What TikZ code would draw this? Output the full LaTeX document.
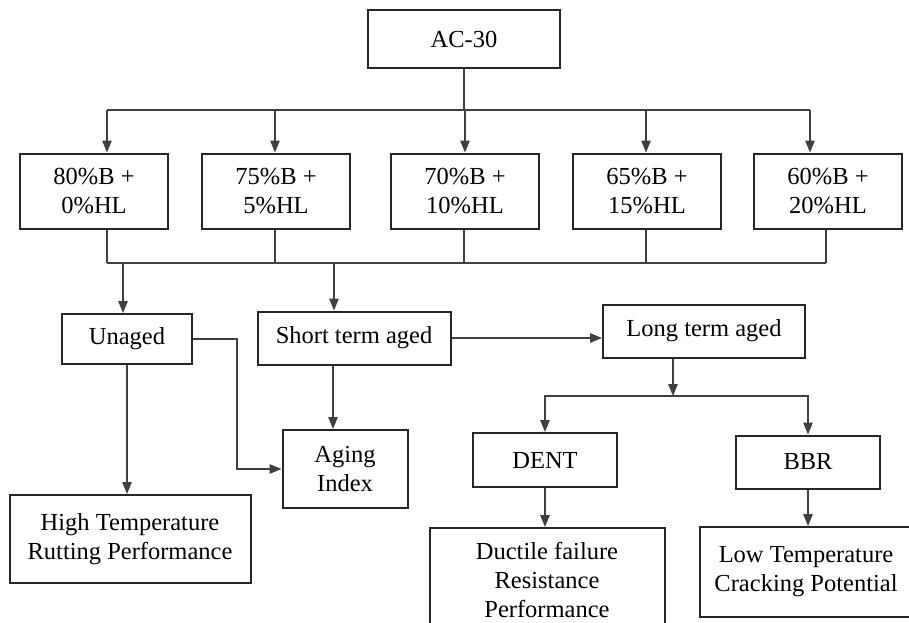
\documentclass[tikz,border=0pt]{standalone}
\usepackage{fontspec}
\setmainfont{Liberation Serif}
\usetikzlibrary{arrows.meta}
\newcommand\flowfont{\fontsize{24.5}{29}\selectfont}

\begin{document}
\begin{tikzpicture}[x=1pt,y=-1pt]
\tikzset{box/.style={draw=black!85,line width=2pt,align=center,inner sep=2pt,font=\flowfont}}
\tikzset{link/.style={draw=black!75,line width=1.3pt}}
\tikzset{flow/.style={link,-{Triangle[length=12pt,width=9.5pt]}}}
\useasboundingbox (0,0) rectangle (909,622);
\clip (0,0) rectangle (909,622);
% binder and blends
\node[box,minimum width=192pt,minimum height=58pt] (ac) at (464,39) {AC-30};
\node[box,minimum width=148pt,minimum height=75pt] (b1) at (94,191) {80\%B +\\0\%HL};
\node[box,minimum width=148pt,minimum height=75pt] (b2) at (276,191) {75\%B +\\5\%HL};
\node[box,minimum width=148pt,minimum height=75pt] (b3) at (465,191) {70\%B +\\10\%HL};
\node[box,minimum width=148pt,minimum height=75pt] (b4) at (647,191) {65\%B +\\15\%HL};
\node[box,minimum width=148pt,minimum height=75pt] (b5) at (828,191) {60\%B +\\20\%HL};
% aging states
\node[box,minimum width=130pt,minimum height=50pt] (unaged) at (127,339) {Unaged};
\node[box,minimum width=193pt,minimum height=53pt] (short) at (354,338) {Short term aged};
\node[box,minimum width=202pt,minimum height=53pt] (long) at (704,331) {Long term aged};
% tests and results
\node[box,minimum width=125pt,minimum height=78pt] (index) at (345,469) {Aging\\Index};
\node[box,minimum width=241pt,minimum height=88pt] (rut) at (130,539) {High Temperature\\Rutting Performance};
\node[box,minimum width=144pt,minimum height=54pt] (dent) at (545,460) {DENT};
\node[box,minimum width=144pt,minimum height=53pt] (bbr) at (808,462) {BBR};
\node[box,minimum width=235pt,minimum height=104pt] (duct) at (547,580) {Ductile failure\\Resistance\\Performance};
\node[box,minimum width=212pt,minimum height=90pt] (crack) at (806,572) {Low Temperature\\Cracking Potential};

\coordinate (split1) at (464,110);
\coordinate (split2) at (464,263);
\coordinate (split3) at (673,396);

\draw[link] (ac) -- (split1);
\draw[link] (split1 -| 107,0) -- (split1 -| 810,0);
\foreach \n/\x in {b1/107,b2/275,b3/465,b4/646,b5/810}
  \draw[flow] (split1 -| \x,0) -- (\n.north -| \x,0);

\foreach \n/\x in {b1/107,b2/275,b3/464,b4/646,b5/826}
  \draw[link] (\n.south -| \x,0) -- (split2 -| \x,0);
\draw[link] (split2 -| 107,0) -- (split2 -| 826,0);
\draw[flow] (split2 -| 123,0) -- (unaged.north -| 123,0);
\draw[flow] (split2 -| 334,0) -- (short.north -| 334,0);

\draw[flow] (unaged.south) -- (unaged.south |- rut.north);
\draw[flow] (unaged.east) -- ++(44,0) |- (index.west);
\draw[flow] (short.south -| 333,0) -- (index.north -| 333,0);
\draw[flow] (short.east) -- (short.east -| long.west);

\draw[flow] (long.south -| split3) -- (split3);
\draw[flow] (split3) -| (dent.north);
\draw[flow] (split3) -| (bbr.north);
\draw[flow] (dent.south) -- (dent.south |- duct.north);
\draw[flow] (bbr.south) -- (bbr.south |- crack.north);
\end{tikzpicture}
\end{document}
